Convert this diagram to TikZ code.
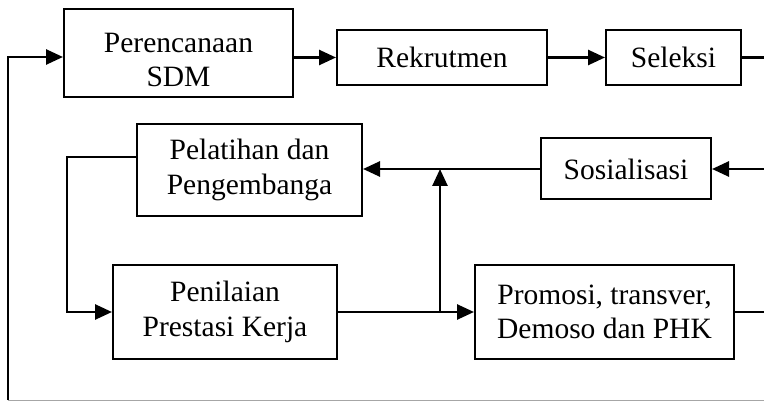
\documentclass[tikz,border=0pt]{standalone}
\usepackage{fontspec}
\setmainfont{Liberation Serif}
\usepackage{tikz}
\usetikzlibrary{arrows.meta, positioning}

\begin{document}
\begin{tikzpicture}[
  x=1pt, y=-1pt,
  box/.style={rectangle, draw=black, line width=2pt, align=center, inner sep=0pt,
              font=\fontsize{29.5}{34.5}\selectfont},
  link/.style={line width=2.6pt},
  >/.tip={Triangle[length=17pt,width=15pt]}
]
\useasboundingbox (0,0) rectangle (764,401);

\node (Plan) at (178.5,53) [box, minimum width=229pt, minimum height=88pt] {Perencanaan\rule{0pt}{33pt}\\SDM};
\node (Rekrut) at (442,57.5) [box, minimum width=210pt, minimum height=55pt] {Rekrutmen};
\node (Seleksi) at (673.5,57.5) [box, minimum width=135pt, minimum height=55pt] {Seleksi};
\node (Sosial) at (626,169) [box, minimum width=170pt, minimum height=61pt] {Sosialisasi};
\node (Latih) at (249.5,170) [box, minimum width=225pt, minimum height=92pt] {Pelatihan dan\\Pengembanga};
\node (Nilai) at (225,312) [box, minimum width=224pt, minimum height=94pt] {Penilaian\\Prestasi Kerja};
\node (Promosi) at (604.5,312) [box, minimum width=259pt, minimum height=94pt] {Promosi, transver,\\Demoso dan PHK};

\coordinate (SelOut) at (764,57.5);
\coordinate (SosIn) at (764,169);
\coordinate (ProOut) at (764,312);
\coordinate (Jn) at (440,169);
\coordinate (Fb) at (8,400);
\coordinate (End) at (764,400);

\draw [->, link] (Plan.east |- Rekrut.west) -- (Rekrut.west);
\draw [->, link] (Rekrut) -- (Seleksi);
\draw [link] (Seleksi.east) -- (SelOut);

\draw [->, link] (SosIn) -- (Sosial.east);
\draw [->, link] (Sosial.west) -- (Latih.east |- Sosial.west);
\draw [->, link] (Jn |- Nilai.east) -- (Jn);

\draw [->, link] ([yshift=13pt]Latih.west) -- ++(-69,0) |- (Nilai.west);
\draw [->, link] (Nilai) -- (Promosi);
\draw [link] (Promosi.east) -- (ProOut);

\draw [->, link] (Fb) |- ([yshift=-4pt]Plan.west);
\draw [gray!70, line width=1pt] (Fb) -- (End);

\end{tikzpicture}
\end{document}
